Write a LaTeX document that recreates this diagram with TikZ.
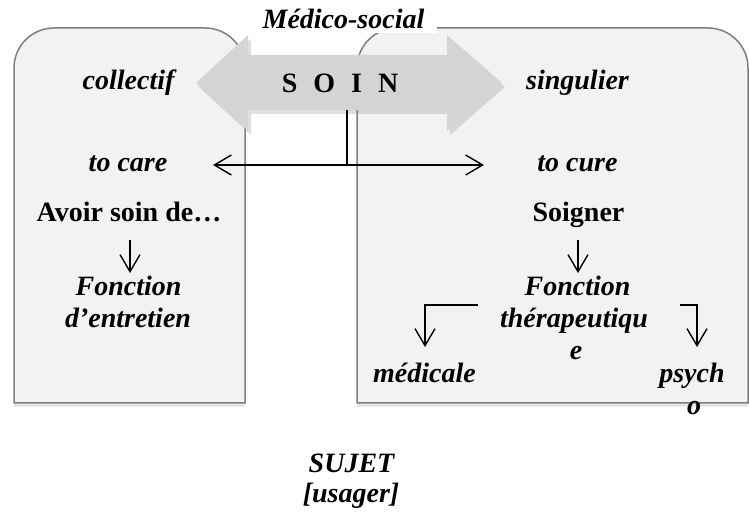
\documentclass[tikz,border=0pt]{standalone}
\usepackage{fontspec}
\setmainfont{Liberation Serif}
\usepackage{tikz}
\usetikzlibrary{arrows.meta,shadows}

\definecolor{panelfill}{HTML}{F2F2F2}
\definecolor{panelline}{HTML}{7F7F7F}
\definecolor{soinfill}{HTML}{D4D4D4}

\tikzset{
    panel/.style={fill=panelfill, draw=panelline, line width=1.5pt,
        drop shadow={shadow xshift=0pt, shadow yshift=-4pt, opacity=0.2}},
    soinarrow/.style={fill=soinfill,
        drop shadow={shadow xshift=3pt, shadow yshift=-4pt, opacity=0.25}},
    word/.style={font=\fontsize{28}{32}\selectfont\bfseries\itshape, anchor=base, inner sep=0pt},
    upword/.style={font=\fontsize{28}{32}\selectfont\bfseries, anchor=base, inner sep=0pt},
    labelbox/.style={font=\fontsize{28}{32}\selectfont\bfseries\itshape, fill=white, inner sep=0pt,
        text height=25pt, text depth=0pt, minimum width=187pt, minimum height=33pt},
    flow/.style={line width=1.4pt}
}

\begin{document}
\begin{tikzpicture}[x=1pt, y=1pt, >={Straight Barb[length=17pt,width=20pt]}]
    \useasboundingbox (0,0) rectangle (749,513);

    \draw[panel] (14,110) -- (14,445) arc[start angle=180, end angle=90, radius=40]
        -- (205,485) arc[start angle=90, end angle=0, radius=40] -- (245,110) -- cycle;
    \draw[panel] (357,110) -- (357,445) arc[start angle=180, end angle=90, radius=40]
        -- (708,485) arc[start angle=90, end angle=0, radius=40] -- (748,110) -- cycle;

    \node[labelbox] (medico) at (343.5,496.5) {Médico-social};

    \fill[soinarrow] (196,430) -- (248,478) -- (248,458) -- (447,458) -- (447,478)
        -- (502,430) -- (447,382) -- (447,403) -- (248,403) -- (248,382) -- cycle;
    \node[upword] (soin) at (340,420) {S\hspace{16pt}O\hspace{16pt}I\hspace{16pt}N};

    \node[word] (collectif) at (128.5,423) {collectif};
    \node[word] (singulier) at (577.5,423) {singulier};
    \node[word] (care) at (128,341) {to care};
    \node[word] (cure) at (577.5,341) {to cure};
    \node[upword] (avoir) at (129,291) {Avoir soin de…};
    \node[upword] (soigner) at (578.5,291) {Soigner};
    \node[word] (fonctA) at (128.5,217) {Fonction};
    \node[word] (entretien) at (128,185) {d’entretien};
    \node[word] (fonctB) at (577.5,217) {Fonction};
    \node[word] (therap) at (574,185) {thérapeutiqu};
    \node[word] (therapend) at (576,153) {e};
    \node[word] (medicale) at (424.5,130) {médicale};
    \node[word] (psych) at (692,130) {psych};
    \node[word] (psychend) at (694,98) {o};
    \node[word] (sujet) at (351.5,40) {SUJET};
    \node[word] (usager) at (351,10) {[usager]};

    \coordinate (stem) at (347,403);
    \coordinate (join) at (347,348);
    \coordinate (careend) at (213,348);
    \coordinate (cureend) at (484,348);
    \draw[line width=1.8pt] (stem) -- (join);
    \draw[flow, <->] (careend) -- (cureend);

    \coordinate (avoirfoot) at (130,273);
    \coordinate (entretienhead) at (130,240);
    \coordinate (soignerfoot) at (578,273);
    \coordinate (therapehead) at (578,240);
    \draw[flow, ->] (avoirfoot) -- (entretienhead);
    \draw[flow, ->] (soignerfoot) -- (therapehead);

    \coordinate (medstart) at (478,208);
    \coordinate (medend) at (425,166);
    \coordinate (psystart) at (680,208);
    \coordinate (psyend) at (697,166);
    \draw[flow, ->] (medstart) -| (medend);
    \draw[flow, ->] (psystart) -| (psyend);
\end{tikzpicture}
\end{document}
